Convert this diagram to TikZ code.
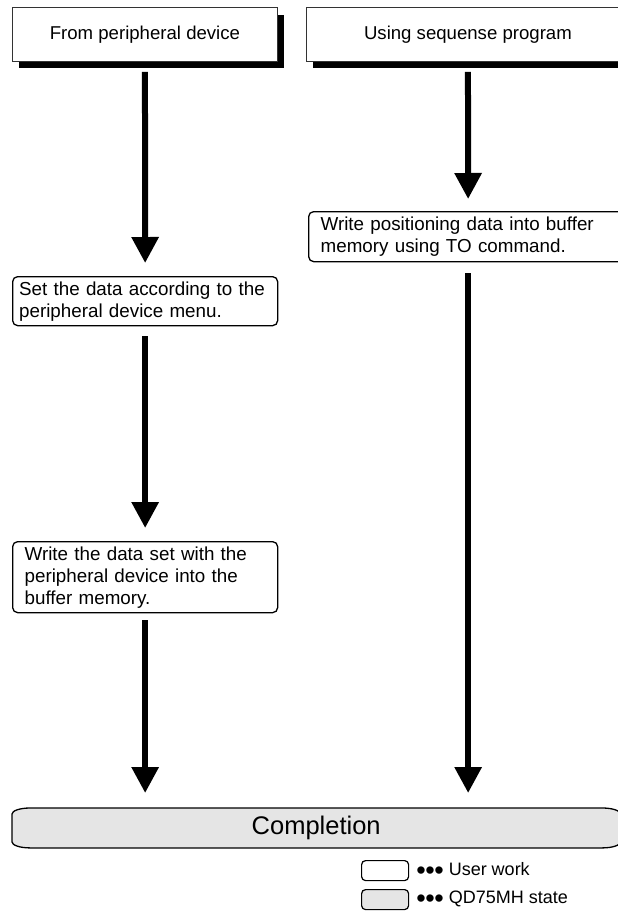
\documentclass[tikz,border=0pt]{standalone}
\usepackage{fontspec}
\setmainfont{Liberation Sans}
\usetikzlibrary{arrows.meta,shadows,backgrounds}
\definecolor{stategray}{HTML}{E5E5E5}
\newcommand{\legdots}{{\fontsize{27}{27}\selectfont\raisebox{-4pt}{\textbullet\kern-0.5pt\textbullet\kern-0.5pt\textbullet}}}
\begin{document}
\begin{tikzpicture}[x=1pt,y=-1pt,
  hdr/.style={draw=black!80, line width=0.9pt, fill=white, minimum width=265pt,
    minimum height=53.4pt, inner sep=0pt, anchor=north west,
    font=\fontsize{18.6}{22}\selectfont,
    drop shadow={shadow xshift=7pt, shadow yshift=-7pt, fill=black, opacity=1}},
  work/.style={draw=black, line width=1.3pt, rounded corners=5pt, fill=white,
    anchor=north west, align=left, inner ysep=0pt,
    font=\fontsize{18.8}{22}\selectfont},
  flow/.style={line width=6pt, -{Triangle[width=26pt,length=26pt]}},
  legbox/.style={draw=black, line width=1.2pt, rounded corners=4pt, anchor=north west,
    minimum width=47pt, minimum height=20pt, inner sep=0pt},
  legtext/.style={anchor=west, inner sep=0pt, font=\fontsize{18}{20}\selectfont}]
\useasboundingbox (0,0) rectangle (618,913);

% header boxes
\node[hdr] (t1) at (12,7.3) {From peripheral device};
\node[hdr, minimum width=323pt] (t2) at (306,7.3) {Using sequense program};

% user work boxes
\node[work, minimum height=49pt, text width=252pt, inner xsep=6.5pt] (sd) at (12,276)
  {Set the data according to the\\peripheral device menu.};
\node[work, minimum height=71pt, text width=241pt, inner xsep=12pt] (wd) at (12,541)
  {Write the data set with the\\peripheral device into the\\buffer memory.};
\node[work, minimum height=50pt, text width=295pt, inner xsep=12pt] (wp) at (308,211)
  {Write positioning data into buffer\\memory using TO command.};

% completion
\node[anchor=north west, minimum width=608pt, minimum height=39.5pt, inner sep=0pt,
  font=\fontsize{25.5}{28}\selectfont] (cp) at (12,808) {Completion};
\begin{scope}[on background layer]
  \draw[line width=1.3pt, fill=stategray]
    ([xshift=18pt]cp.north west) -- ([xshift=-18pt]cp.north east)
    arc[start angle=90, end angle=0, x radius=18pt, y radius=6pt]
    -- ([yshift=6pt]cp.south east)
    arc[start angle=0, end angle=-90, x radius=18pt, y radius=6pt]
    -- ([xshift=18pt]cp.south west)
    arc[start angle=270, end angle=180, x radius=18pt, y radius=6pt]
    -- ([yshift=-6pt]cp.north west)
    arc[start angle=180, end angle=90, x radius=18pt, y radius=6pt] -- cycle;
\end{scope}

% connectors
\draw[flow, shorten <=10.3pt, shorten >=13pt] (t1.south) -- (sd.north);
\draw[flow, shorten <=10pt, shorten >=13pt] (sd.south) -- (wd.north);
\draw[flow, shorten <=7pt, shorten >=15pt] (wd.south) -- (wd.south |- cp.north);
\draw[flow, shorten <=10.3pt, shorten >=12pt] (t2.south) -- (wp.north);
\draw[flow, shorten <=11pt, shorten >=15pt] (wp.south) -- (wp.south |- cp.north);

% legend
\node[legbox] (l1) at (361,860) {};
\node[legbox, fill=stategray] (l2) at (361,889) {};
\node[legtext] (l1t) at ([xshift=7pt]l1.east) {\legdots\ User work};
\node[legtext] (l2t) at ([xshift=7pt]l2.east) {\legdots\ QD75MH state};
\end{tikzpicture}
\end{document}
